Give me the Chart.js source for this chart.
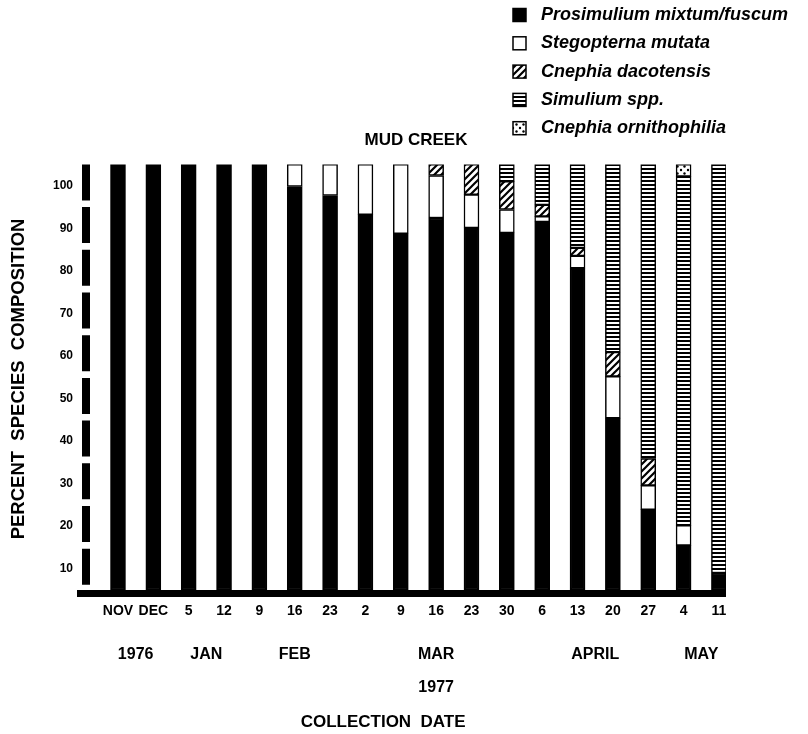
<!DOCTYPE html>
<html>
<head>
<meta charset="utf-8">
<script src="https://cdn.jsdelivr.net/npm/chart.js@4/dist/chart.umd.min.js"></script>
<style>
  html, body { margin: 0; padding: 0; background: #fff; }
  #wrap { width: 808px; height: 734px; }
</style>
</head>
<body>
<div id="wrap"><canvas id="chart" width="808" height="734"></canvas></div>
<script>
// Collection dates (one bar each) and the calendar rows beneath them
const DATE_LABELS = ['NOV', 'DEC', '5', '12', '9', '16', '23', '2', '9', '16', '23', '30', '6', '13', '20', '27', '4', '11'];
const MONTH_LABELS = ['1976', 'JAN', 'FEB', 'MAR', 'APRIL', 'MAY'];
const MONTH_DATE_COUNTS = [2, 2, 3, 5, 4, 2];   // how many collection dates fall in each month
const YEAR_LABELS = ['1977'];
const X_TITLE = 'COLLECTION  DATE';
const Y_TITLE = 'PERCENT  SPECIES  COMPOSITION';
const Y_TICK_LABELS = [10, 20, 30, 40, 50, 60, 70, 80, 90, 100];

// Species names (legend order, bottom of stack first)
const SPECIES = ['Prosimulium mixtum/fuscum', 'Stegopterna mutata', 'Cnephia dacotensis', 'Simulium spp.', 'Cnephia ornithophilia'];

// Percent species composition per collection date
const PROSIMULIUM   = [100, 100, 100, 100, 100, 94.8, 92.7, 88.2, 83.7, 87.4, 85.1, 83.9, 86.5, 75.6, 40.4, 18.9, 10.5, 4.0];
const STEGOPTERNA   = [0, 0, 0, 0, 0, 5.2, 7.3, 11.8, 16.3, 10.0, 7.8, 5.5, 1.3, 2.9, 9.8, 5.7, 4.7, 0];
const DACOTENSIS    = [0, 0, 0, 0, 0, 0, 0, 0, 0, 2.6, 7.1, 6.6, 2.7, 1.9, 5.7, 6.3, 0, 0];
const SIMULIUM      = [0, 0, 0, 0, 0, 0, 0, 0, 0, 0, 0, 4.0, 9.5, 19.6, 44.1, 69.1, 82.0, 96.0];
const ORNITHOPHILIA = [0, 0, 0, 0, 0, 0, 0, 0, 0, 0, 0, 0, 0, 0, 0, 0, 2.8, 0];

// ---- layout constants ----
const FONT = '"Liberation Sans", Arial, sans-serif';
const X_MIN = -0.905, X_MAX = 17.2;     // index range shown across the plot
const Y_MIN = -0.82;                      // room for the heavy baseline under 0 %
const YEAR_AT = 9;                        // index under which the year is lettered
const X_TITLE_AT = 7.5;                   // index under which the axis title is centred

// month labels sit at the centre of their group of dates
const MONTH_AT = [];
(function () {
  let start = 0;
  MONTH_DATE_COUNTS.forEach(n => { MONTH_AT.push(start + (n - 1) / 2); start += n; });
})();

// ---- fill patterns ----
function makePattern(w, h, paint) {
  const c = document.createElement('canvas');
  c.width = w; c.height = h;
  const g = c.getContext('2d');
  g.fillStyle = '#fff';
  g.fillRect(0, 0, w, h);
  paint(g);
  return document.getElementById('chart').getContext('2d').createPattern(c, 'repeat');
}
const stripeFill = makePattern(4, 4, g => { g.fillStyle = '#000'; g.fillRect(0, 0, 4, 2); });
const hatchFill = makePattern(7, 7, g => {
  g.strokeStyle = '#000'; g.lineWidth = 2.2;
  g.beginPath();
  g.moveTo(-1, 8); g.lineTo(8, -1);
  g.moveTo(-1, 1); g.lineTo(1, -1);
  g.moveTo(6, 8); g.lineTo(8, 6);
  g.stroke();
});
const dotFill = makePattern(7, 7, g => {
  g.fillStyle = '#000';
  g.beginPath(); g.arc(2, 2, 1.2, 0, Math.PI * 2); g.fill();
  g.beginPath(); g.arc(5.5, 5.5, 1.2, 0, Math.PI * 2); g.fill();
});

const toPoints = arr => arr.map((v, i) => ({ x: i, y: v }));

// ---- vertical legend drawn from the library's legend items ----
const speciesLegend = {
  id: 'speciesLegend',
  afterDraw(chart, args, opts) {
    const ctx = chart.ctx;
    let items = chart.legend && chart.legend.legendItems;
    if (!items || !items.length) items = Chart.defaults.plugins.legend.labels.generateLabels(chart);
    ctx.save();
    ctx.font = opts.font;
    ctx.textBaseline = 'middle';
    ctx.textAlign = 'left';
    items.forEach((item, i) => {
      const cy = opts.y + i * opts.rowHeight;
      const s = opts.boxSize;
      ctx.fillStyle = item.fillStyle;
      ctx.fillRect(opts.x, cy - s / 2, s, s);
      ctx.lineWidth = 1.5;
      ctx.strokeStyle = '#000';
      ctx.strokeRect(opts.x, cy - s / 2, s, s);
      ctx.fillStyle = '#000';
      ctx.fillText(item.text, opts.textX, cy);
    });
    ctx.restore();
  }
};

const barStyle = { borderColor: '#000', borderWidth: 1.5, borderSkipped: false, barThickness: 15, xAxisID: 'x', yAxisID: 'y' };

// shared settings for the horizontal (index) scales
const indexScale = extra => Object.assign({
  type: 'linear', position: 'bottom', bounds: 'data', offset: false,
  min: X_MIN, max: X_MAX,
  grid: { display: false, drawTicks: false, offset: false },
  border: { display: false }
}, extra);

// a row of lettering under the plot: one label per tick position
const labelRow = (weight, positions, labels, size, pad, height) => indexScale({
  weight,
  afterBuildTicks: s => { s.ticks = positions.map(v => ({ value: v })); },
  ticks: {
    autoSkip: false, maxRotation: 0, minRotation: 0, padding: pad, color: '#000',
    font: { family: FONT, size, weight: 'bold' },
    callback: (v, i) => labels[i]
  },
  afterFit: s => { s.height = height; }
});

new Chart(document.getElementById('chart'), {
  type: 'bar',
  data: {
    datasets: [
      Object.assign({ label: SPECIES[0], data: toPoints(PROSIMULIUM), backgroundColor: '#000' }, barStyle),
      Object.assign({ label: SPECIES[1], data: toPoints(STEGOPTERNA), backgroundColor: '#fff' }, barStyle),
      Object.assign({ label: SPECIES[2], data: toPoints(DACOTENSIS), backgroundColor: hatchFill }, barStyle),
      Object.assign({ label: SPECIES[3], data: toPoints(SIMULIUM), backgroundColor: stripeFill }, barStyle),
      Object.assign({ label: SPECIES[4], data: toPoints(ORNITHOPHILIA), backgroundColor: dotFill }, barStyle)
    ]
  },
  options: {
    responsive: false,
    animation: false,
    events: [],
    layout: { padding: { top: 130, left: 24, right: 0, bottom: 0 } },
    plugins: {
      legend: { display: false },
      tooltip: { enabled: false },
      title: {
        display: true,
        text: 'MUD CREEK',
        color: '#000',
        font: { family: FONT, size: 17, weight: 'bold' },
        padding: { top: 0, bottom: 14 }
      },
      speciesLegend: {
        x: 513, textX: 541, y: 15, rowHeight: 28.3, boxSize: 13,
        font: 'italic bold 18px ' + FONT
      }
    },
    scales: {
      x: Object.assign(labelRow(0, DATE_LABELS.map((_, i) => i), DATE_LABELS, 14, 9, 51.9), { stacked: true }),
      xMonth: labelRow(1, MONTH_AT, MONTH_LABELS, 16, 0, 33),
      xYear: labelRow(2, YEAR_LABELS.map(() => YEAR_AT), YEAR_LABELS, 16, 0, 33.4),
      xTitle: labelRow(3, [X_TITLE_AT], [X_TITLE], 17, 0, 22.2),
      // the broken vertical axis bar: one 10 % dash per band, drawn as a grid line at the left edge
      xAxisBar: indexScale({
        weight: 4,
        afterBuildTicks: s => { s.ticks = [{ value: X_MIN }]; },
        ticks: { display: false },
        grid: { display: true, drawOnChartArea: true, drawTicks: false, offset: false, color: '#000', lineWidth: 8 },
        border: { display: false, dash: [36, 6.7], dashOffset: 0 },
        afterFit: s => { s.height = 0; }
      }),
      y: {
        type: 'linear', position: 'left', stacked: true, bounds: 'data',
        min: Y_MIN, max: 100,
        afterBuildTicks: s => {
          s.ticks = [{ value: Y_MIN }].concat(Y_TICK_LABELS.map(t => ({ value: t - 5 })));
        },
        ticks: {
          autoSkip: false, padding: 4, color: '#000',
          font: { family: FONT, size: 12, weight: 'bold' },
          callback: (v, i) => (i === 0 ? '' : String(Y_TICK_LABELS[i - 1]))
        },
        grid: {
          drawOnChartArea: true, drawTicks: true, tickLength: 9,
          color: c => (c.index === 0 ? '#000' : 'rgba(0,0,0,0)'),
          lineWidth: c => (c.index === 0 ? 7 : 1)
        },
        border: { display: false },
        title: {
          display: true, text: Y_TITLE, color: '#000',
          font: { family: FONT, size: 18.5, weight: 'bold' },
          padding: { top: -16, bottom: 0 }
        },
        afterFit: s => { s.width = 62; }
      },
      yRight: {
        type: 'linear', position: 'right',
        ticks: { display: false },
        grid: { display: false },
        border: { display: false },
        afterFit: s => { s.width = 82; }
      }
    }
  },
  plugins: [speciesLegend]
});
</script>
</body>
</html>
